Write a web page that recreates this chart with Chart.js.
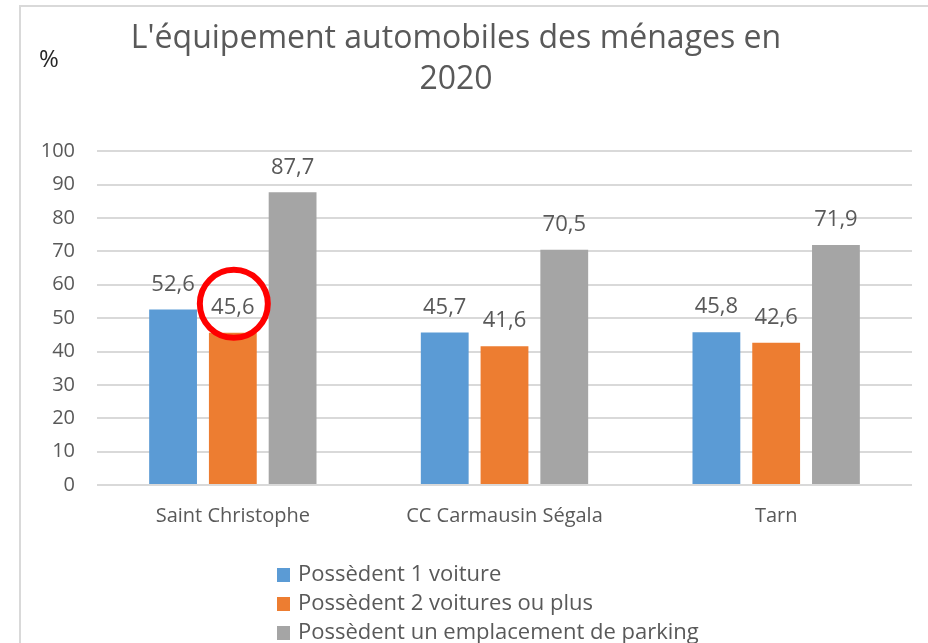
<!DOCTYPE html>
<html>
<head>
<meta charset="utf-8">
<script src="https://cdn.jsdelivr.net/npm/chart.js@4/dist/chart.umd.min.js"></script>
<style>
  html, body { margin: 0; padding: 0; background: #fff; overflow: hidden; }
  #frame {
    position: absolute; left: 19px; top: 5px; width: 909px; height: 638px;
    border-left: 2px solid #d9d9d9; border-top: 2px solid #d9d9d9;
  }
  #wrap { position: absolute; left: 0; top: 0; width: 928px; height: 643px; }
</style>
</head>
<body>
<div id="frame"></div>
<div id="wrap"><canvas id="myChart"></canvas></div>
<script>
const categories = ["Saint Christophe", "CC Carmausin Ségala", "Tarn"];
const seriesNames = [
  "Possèdent 1 voiture",
  "Possèdent 2 voitures ou plus",
  "Possèdent un emplacement de parking",
];
const uneVoiture = [52.6, 45.7, 45.8];
const deuxVoitures = [45.6, 41.6, 42.6];
const parking = [87.7, 70.5, 71.9];
const yMin = 0;
const yMax = 100;
const yStep = 10;

const colors = ["#5b9bd5", "#ed7d31", "#a5a5a5"];
const textColor = "#595959";
const font = "'Open Sans', 'DejaVu Sans', sans-serif";

// values written above each bar, french decimal comma
const valueLabels = {
  id: "valueLabels",
  afterDatasetsDraw(chart) {
    const ctx = chart.ctx;
    ctx.save();
    ctx.font = "22px " + font;
    ctx.fillStyle = textColor;
    ctx.textAlign = "center";
    ctx.textBaseline = "middle";
    chart.data.datasets.forEach((ds, i) => {
      chart.getDatasetMeta(i).data.forEach((bar, j) => {
        ctx.fillText(ds.data[j].toFixed(1).replace(".", ","), bar.x, bar.y - 25);
      });
    });
    ctx.restore();
  },
};

// red circle around the Saint Christophe "2 voitures" value
const highlight = {
  id: "highlight",
  afterDatasetsDraw(chart) {
    const bar = chart.getDatasetMeta(1).data[0];
    const ctx = chart.ctx;
    ctx.save();
    ctx.strokeStyle = "#ff0000";
    ctx.lineWidth = 6;
    ctx.beginPath();
    ctx.arc(bar.x + 1, bar.y - 29, 34, 0, Math.PI * 2);
    ctx.stroke();
    ctx.restore();
  },
};

// "%" unit at the top left
const unitLabel = {
  id: "unitLabel",
  afterDraw(chart) {
    const ctx = chart.ctx;
    ctx.save();
    ctx.font = "24px " + font;
    ctx.fillStyle = "#262626";
    ctx.textAlign = "center";
    ctx.textBaseline = "middle";
    ctx.fillText("%", chart.chartArea.left - 48, 60);
    ctx.restore();
  },
};

// legend stacked one item per line under the x axis
const stackedLegend = {
  id: "stackedLegend",
  afterDraw(chart) {
    const ctx = chart.ctx;
    const x = chart.chartArea.left + 180;
    let y = chart.chartArea.bottom + 90;
    ctx.save();
    ctx.font = "22px " + font;
    ctx.textBaseline = "middle";
    chart.data.datasets.forEach((ds) => {
      ctx.fillStyle = ds.backgroundColor;
      ctx.fillRect(x, y - 7, 13, 14);
      ctx.fillStyle = textColor;
      ctx.fillText(ds.label, x + 21, y);
      y += 29;
    });
    ctx.restore();
  },
};

const ctx = document.getElementById("myChart").getContext("2d");

const myChart = new Chart(ctx, {
  type: "bar",
  data: {
    labels: categories,
    datasets: [
      { label: seriesNames[0], data: uneVoiture, backgroundColor: colors[0] },
      { label: seriesNames[1], data: deuxVoitures, backgroundColor: colors[1] },
      { label: seriesNames[2], data: parking, backgroundColor: colors[2] },
    ],
  },
  options: {
    responsive: true,
    maintainAspectRatio: false,
    animation: false,
    datasets: {
      bar: {
        categoryPercentage: 0.66,
        barPercentage: 0.8,
      },
    },
    layout: {
      padding: { left: 0, right: 16, top: 0, bottom: 104 },
    },
    scales: {
      x: {
        grid: { display: false },
        border: { display: false },
        ticks: {
          color: textColor,
          padding: 11,
          font: { family: font, size: 20 },
        },
      },
      y: {
        min: yMin,
        max: yMax,
        afterFit(scale) {
          scale.width = 97;
        },
        grid: {
          color: "#d9d9d9",
          lineWidth: 2,
          drawTicks: false,
        },
        border: { display: false },
        ticks: {
          stepSize: yStep,
          color: textColor,
          padding: 22,
          font: { family: font, size: 20 },
        },
      },
    },
    plugins: {
      legend: { display: false },
      tooltip: { enabled: false },
      title: {
        display: true,
        text: ["L'équipement automobiles des ménages en", "2020"],
        color: textColor,
        font: { family: font, size: 32, weight: "normal", lineHeight: 1.27 },
        padding: { top: 19, bottom: 51 },
      },
    },
  },
  plugins: [valueLabels, highlight, unitLabel, stackedLegend],
});
</script>
</body>
</html>
